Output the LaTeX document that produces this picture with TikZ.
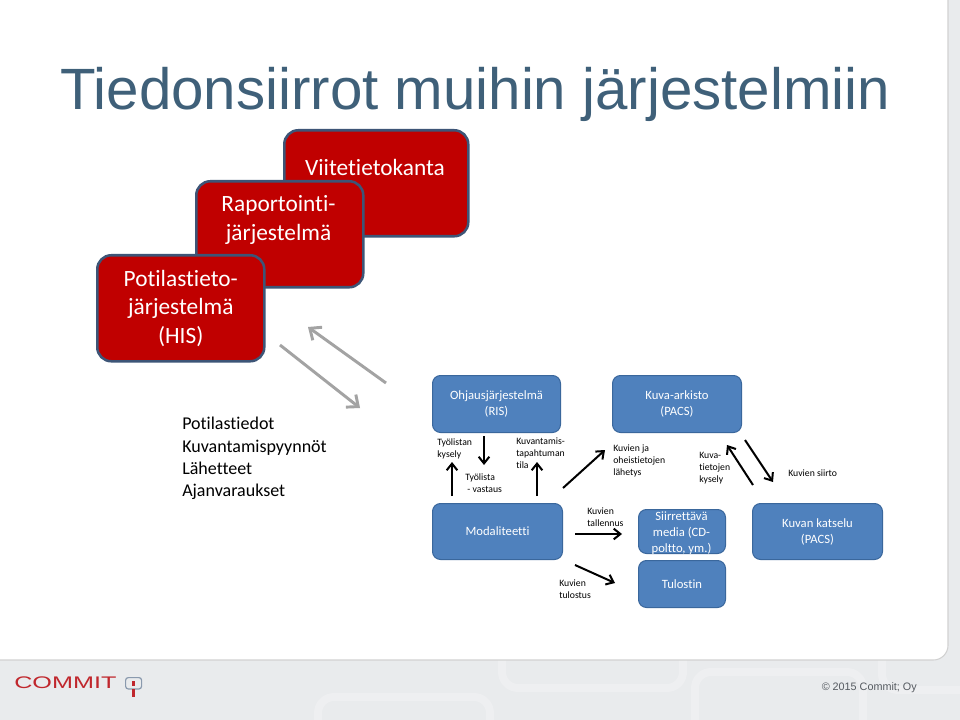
\documentclass[tikz,border=0pt]{standalone}
\usepackage{fontspec}
\setmainfont{Carlito}[Ligatures={NoCommon}]
\newfontfamily\arialf{Liberation Sans}
\usetikzlibrary{arrows.meta}
\definecolor{titlecol}{HTML}{3F6079}
\definecolor{redfill}{HTML}{C00000}
\definecolor{redline}{HTML}{3D5577}
\definecolor{bluefill}{HTML}{4F81BD}
\definecolor{blueline}{HTML}{3A679C}
\definecolor{footbg}{HTML}{E9EBED}
\definecolor{footdeco}{HTML}{EEEFF1}
\definecolor{grayarrow}{HTML}{A3A3A3}
\definecolor{logored}{HTML}{C0272D}
\definecolor{logogray}{HTML}{8A9AAE}
\definecolor{copycol}{HTML}{555A60}
\tikzset{
  redbox/.style={draw=redline, line width=1.9pt, fill=redfill, rounded corners=10.5pt,
    anchor=north west, inner sep=0pt, text=white, font=\fontsize{17.5}{21.4}\selectfont, align=center},
  redtxt/.style={text=white, inner sep=0pt, font=\fontsize{17.5}{21.4}\selectfont, align=center},
  bluebox/.style={draw=blueline, line width=0.75pt, fill=bluefill, rounded corners=6pt,
    anchor=north west, inner sep=0pt, text=white, font=\fontsize{9.5}{12}\selectfont, align=center},
  lbl/.style={font=\fontsize{7.3}{9}\selectfont, align=left, inner sep=0pt, anchor=west},
  blk/.style={-{Straight Barb[length=5pt,width=8pt]}, line width=1.5pt},
  gry/.style={draw=grayarrow, -{Straight Barb[length=7pt,width=12pt]}, line width=2.2pt},
  deco/.style={draw=footdeco, line width=6pt, rounded corners=12pt}
}
\begin{document}
\begin{tikzpicture}[x=0.75pt,y=-0.75pt]
\useasboundingbox (0,0) rectangle (960,720);
% background and panel
\fill[footbg] (0,0) rectangle (960,720);
\begin{scope}
\clip (0,660) rectangle (960,720);
\draw[deco] (502,640) -- (502,688) -- (683,688) -- (683,640);
\draw[deco] (318,740) -- (318,697) -- (490,697) -- (490,740);
\draw[deco] (695,740) -- (695,672) -- (863,672) -- (863,740);
\draw[deco] (882,640) -- (882,690) -- (980,690);
\end{scope}
\path[fill=white, draw=black!18, line width=0.8pt] (-3,-3) -- (948,-3) [rounded corners=11pt] -- (948,660) [sharp corners] -- (-3,660) -- cycle;

% title
\node[font=\arialf\fontsize{43.7}{50}\selectfont, text=titlecol, anchor=base west, inner sep=0pt] (title) at (60,110) {Tiedonsiirrot muihin järjestelmiin};

% red boxes
\node[redbox, minimum width=138pt, minimum height=79.5pt] (viite) at (283,129) {};
\node[redtxt] (viitet) at (375,167) {Viitetietokanta};
\node[redbox, minimum width=125.25pt, minimum height=79.5pt] (rapor) at (195,180) {};
\node[redtxt] (raport) at (278.5,220) {Raportointi-\\järjestelmä};
\node[redbox, minimum width=125.25pt, minimum height=79.5pt] (potil) at (96,254) {Potilastieto-\\järjestelmä\\(HIS)};

% gray arrows
\coordinate (g1s) at (386,383); \coordinate (g1e) at (308,327);
\coordinate (g2s) at (280,345); \coordinate (g2e) at (360,408);
\draw[gry] (g1s) -- (g1e);
\draw[gry] (g2s) -- (g2e);

% list
\node[font=\fontsize{13.5}{16.7}\selectfont, align=left, anchor=west, inner sep=0pt] (list) at (182,458.5)
  {Potilastiedot\\Kuvantamispyynnöt\\Lähetteet\\Ajanvaraukset};

% blue boxes
\node[bluebox, minimum width=96pt, minimum height=42.75pt] (ris) at (432,375) {Ohjausjärjestelmä\\(RIS)};
\node[bluebox, minimum width=96.75pt, minimum height=42.75pt] (pacs) at (612,375) {Kuva-arkisto\\(PACS)};
\node[bluebox, minimum width=97.5pt, minimum height=42pt] (modal) at (432,503) {Modaliteetti};
\node[bluebox, minimum width=65.25pt, minimum height=33pt] (media) at (638,509) {};
\node[text=white, font=\fontsize{9.5}{12}\selectfont, align=center, inner sep=0pt] (mediat) at (681.5,533.5) {Siirrettävä\\media (CD-\\poltto, ym.)};
\node[bluebox, minimum width=65.25pt, minimum height=35.25pt] (tulostin) at (638,560) {Tulostin};
\node[bluebox, minimum width=97.5pt, minimum height=42pt] (katselu) at (752,503) {Kuvan katselu\\(PACS)};

% black arrows
\coordinate (a1s) at (452,496); \coordinate (a1e) at (452,462);
\coordinate (a2s) at (484,436); \coordinate (a2e) at (484,465);
\coordinate (a3s) at (537,496); \coordinate (a3e) at (537,462);
\coordinate (a4s) at (563,488); \coordinate (a4e) at (605,450);
\coordinate (a5s) at (575,534); \coordinate (a5e) at (622,534);
\coordinate (a6s) at (575,565); \coordinate (a6e) at (615,583);
\coordinate (a7s) at (753,485); \coordinate (a7e) at (727,445);
\coordinate (a8s) at (745,440); \coordinate (a8e) at (773,482);
\foreach \i in {1,...,8} {\draw[blk] (a\i s) -- (a\i e);}

% labels
\node[lbl] (l1) at (437,448.5) {Työlistan\\kysely};
\node[lbl] (l2) at (465,483) {Työlista\\\ - vastaus};
\node[lbl] (l3) at (516,453.5) {Kuvantamis-\\tapahtuman\\tila};
\node[lbl] (l4) at (613,460.5) {Kuvien ja\\oheistietojen\\lähetys};
\node[lbl] (l5) at (699,468.5) {Kuva-\\tietojen\\kysely};
\node[lbl] (l6) at (788,473) {Kuvien siirto};
\node[lbl] (l7) at (587,517) {Kuvien\\tallennus};
\node[lbl] (l8) at (559,589) {Kuvien\\tulostus};

% footer
\node[font=\arialf\fontsize{12.6}{14}\selectfont, text=logored, anchor=base west, inner sep=0pt] (logo) at (14,688) {\scalebox{1.5}[1]{COMMIT}};
\node[draw=logogray, line width=0.9pt, rounded corners=2pt, minimum width=12pt, minimum height=8.5pt, anchor=north west, inner sep=0pt] (icon) at (125,677) {};
\fill[logored] (131.5,681) rectangle (135,686);
\fill[logored] (132,689) rectangle (135,697);
\node[font=\arialf\fontsize{8.1}{10}\selectfont, text=copycol, anchor=base east, inner sep=0pt] (copy) at (917,690) {© 2015 Commit; Oy};
\end{tikzpicture}
\end{document}
